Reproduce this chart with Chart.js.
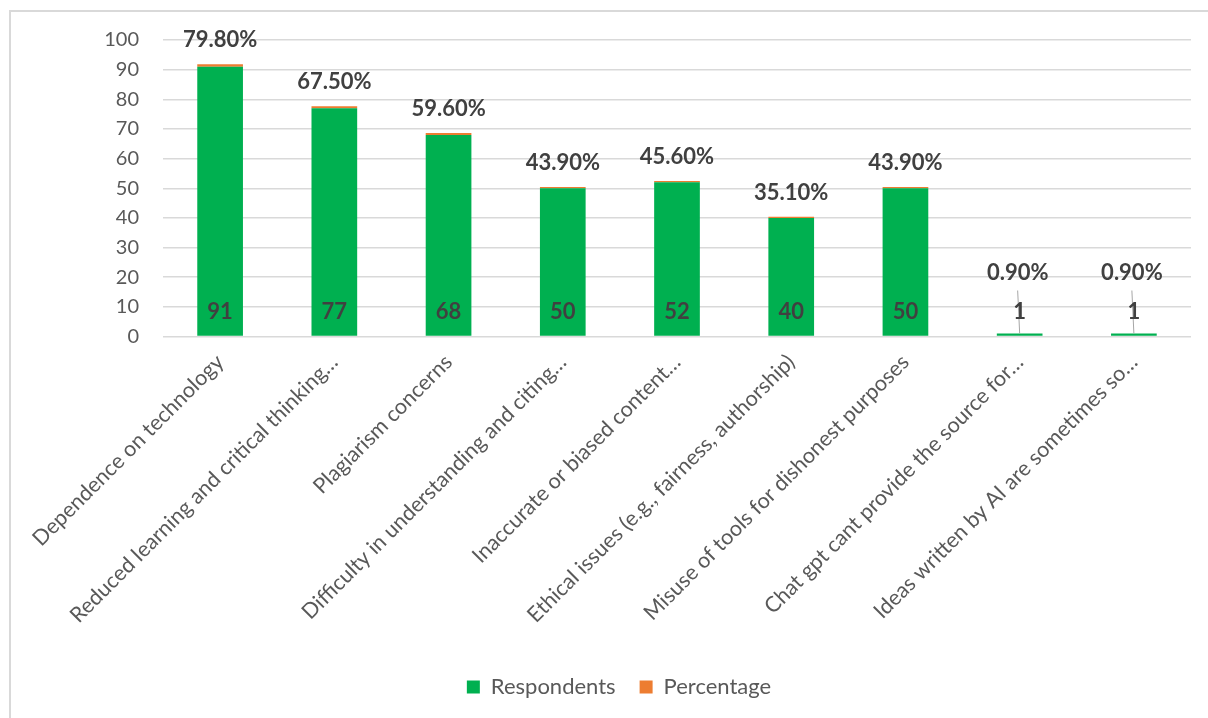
<!DOCTYPE html>
<html>
<head>
<meta charset="utf-8">
<script src="https://cdn.jsdelivr.net/npm/chart.js@4.4.1/dist/chart.umd.min.js"></script>
<style>
  html, body { margin: 0; padding: 0; background: #ffffff; overflow: hidden; }
  #frame { position: absolute; left: 9px; top: 10px; width: 1300px; height: 800px;
           border: 2px solid #d9d9d9; box-sizing: border-box; }
  #wrap { position: absolute; left: 0; top: 0; width: 1208px; height: 718px; }
</style>
</head>
<body>
<div id="frame"></div>
<div id="wrap"><canvas id="chart"></canvas></div>
<script>
// Concerns about AI tools: number of respondents and share of respondents
const categories = [
  'Dependence on technology',
  'Reduced learning and critical thinking…',
  'Plagiarism concerns',
  'Difficulty in understanding and citing…',
  'Inaccurate or biased content…',
  'Ethical issues (e.g., fairness, authorship)',
  'Misuse of tools for dishonest purposes',
  'Chat gpt cant provide the source for…',
  'Ideas written by AI are sometimes so…'
];
const respondents = [91, 77, 68, 50, 52, 40, 50, 1, 1];
const percentage = [0.798, 0.675, 0.596, 0.439, 0.456, 0.351, 0.439, 0.009, 0.009];
const yMin = 0;
const yMax = 100;
const yStep = 10;

const GREEN = '#00B050';
const ORANGE = '#ED7D31';
const AXIS_TEXT = '#595959';
const LABEL_TEXT = '#404040';
const GRID = '#d9d9d9';
const FONT = 'Lato, "Open Sans", sans-serif';

// Value labels: counts near the bar base, percentages above each stack
const valueLabels = {
  id: 'valueLabels',
  afterDatasetsDraw(chart) {
    const ctx = chart.ctx;
    const resMeta = chart.getDatasetMeta(0);
    const pctMeta = chart.getDatasetMeta(1);
    ctx.save();
    ctx.font = 'bold 22px ' + FONT;
    ctx.fillStyle = LABEL_TEXT;
    ctx.textAlign = 'center';
    ctx.textBaseline = 'middle';

    pctMeta.data.forEach((bar, i) => {
      const top = bar.y;
      const base = resMeta.data[i].base;
      const text = (percentage[i] * 100).toFixed(2) + '%';
      if (base - top < 40) {
        // short stacks get the label lifted clear with a leader line
        const ly = top - 61;
        ctx.save();
        ctx.strokeStyle = '#a6a6a6';
        ctx.lineWidth = 1;
        ctx.beginPath();
        ctx.moveTo(bar.x - 2, ly + 18);
        ctx.lineTo(bar.x, top);
        ctx.stroke();
        ctx.restore();
        ctx.fillText(text, bar.x - 2, ly);
      } else {
        ctx.fillText(text, bar.x, top - 24);
      }
    });

    resMeta.data.forEach((bar, i) => {
      ctx.fillText(String(respondents[i]), bar.x, bar.base - 24);
    });
    ctx.restore();
  }
};

new Chart(document.getElementById('chart'), {
  type: 'bar',
  data: {
    labels: categories,
    datasets: [
      { label: 'Respondents', data: respondents, backgroundColor: GREEN, borderWidth: 0,
        categoryPercentage: 0.4, barPercentage: 1.0 },
      { label: 'Percentage', data: percentage, backgroundColor: ORANGE, borderWidth: 0,
        categoryPercentage: 0.4, barPercentage: 1.0 }
    ]
  },
  options: {
    responsive: true,
    maintainAspectRatio: false,
    devicePixelRatio: 1,
    animation: false,
    layout: { padding: { top: 40, left: 47, right: 17, bottom: 10 } },
    plugins: {
      legend: {
        position: 'bottom',
        labels: {
          boxWidth: 13, boxHeight: 13, padding: 24,
          color: AXIS_TEXT, font: { family: FONT, size: 22 }
        }
      },
      tooltip: { enabled: false }
    },
    scales: {
      x: {
        stacked: true,
        grid: { display: false, drawTicks: false },
        border: { display: false },
        ticks: {
          autoSkip: false, minRotation: 45, maxRotation: 45, padding: 13,
          color: AXIS_TEXT, font: { family: FONT, size: 21.5 }
        },
        afterFit(scale) { scale.height = 315.5; scale.paddingLeft = 0; scale.paddingRight = 0; }
      },
      y: {
        stacked: true,
        min: yMin, max: yMax,
        grid: { color: GRID, lineWidth: 1.5, drawTicks: false },
        border: { display: false },
        ticks: {
          stepSize: yStep, padding: 24,
          color: AXIS_TEXT, font: { family: FONT, size: 20 }
        },
        afterFit(scale) { scale.width = 116; scale.paddingTop = 0; scale.paddingBottom = 0; }
      }
    }
  },
  plugins: [valueLabels]
});
</script>
</body>
</html>
